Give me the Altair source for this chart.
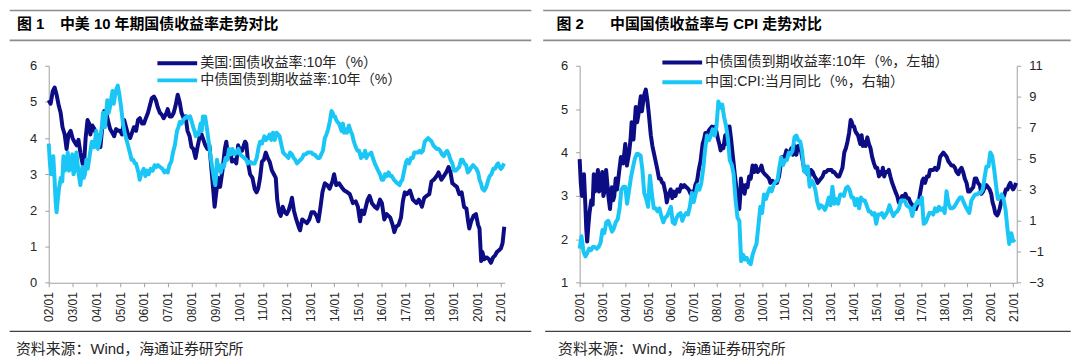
import altair as alt
import pandas as pd

# ---------------- data ----------------
us_t = [2002.00, 2002.08, 2002.17, 2002.25, 2002.33, 2002.42, 2002.50, 2002.58, 2002.67, 2002.75,
        2002.83, 2002.92, 2003.00, 2003.08, 2003.17, 2003.25, 2003.33, 2003.42, 2003.47, 2003.55,
        2003.63, 2003.70, 2003.75, 2003.83, 2003.92, 2004.00, 2004.08, 2004.17, 2004.25, 2004.33,
        2004.42, 2004.50, 2004.58, 2004.67, 2004.75, 2004.83, 2004.92, 2005.00, 2005.08, 2005.17,
        2005.25, 2005.33, 2005.42, 2005.50, 2005.58, 2005.67, 2005.75, 2005.83, 2005.92, 2006.00,
        2006.08, 2006.17, 2006.25, 2006.33, 2006.42, 2006.50, 2006.58, 2006.67, 2006.75, 2006.83,
        2006.92, 2007.00, 2007.08, 2007.17, 2007.25, 2007.33, 2007.42, 2007.50, 2007.58, 2007.67,
        2007.75, 2007.83, 2007.92, 2008.00, 2008.08, 2008.17, 2008.25, 2008.33, 2008.42, 2008.50,
        2008.58, 2008.67, 2008.75, 2008.83, 2008.92, 2008.97, 2009.04, 2009.12, 2009.20, 2009.30,
        2009.40, 2009.46, 2009.54, 2009.62, 2009.70, 2009.80, 2009.88, 2009.96, 2010.04, 2010.12,
        2010.25, 2010.30, 2010.38, 2010.46, 2010.56, 2010.65, 2010.73, 2010.80, 2010.88, 2010.96,
        2011.04, 2011.12, 2011.20, 2011.28, 2011.38, 2011.46, 2011.54, 2011.60, 2011.68, 2011.75,
        2011.83, 2011.92, 2012.00, 2012.08, 2012.17, 2012.22, 2012.30, 2012.40, 2012.50, 2012.56,
        2012.65, 2012.75, 2012.85, 2012.95, 2013.04, 2013.15, 2013.25, 2013.33, 2013.42, 2013.50,
        2013.60, 2013.70, 2013.80, 2013.92, 2013.99, 2014.08, 2014.20, 2014.30, 2014.42, 2014.55,
        2014.65, 2014.78, 2014.90, 2014.99, 2015.08, 2015.15, 2015.25, 2015.40, 2015.48, 2015.58,
        2015.70, 2015.80, 2015.92, 2016.00, 2016.10, 2016.20, 2016.35, 2016.45, 2016.52, 2016.60,
        2016.70, 2016.80, 2016.88, 2016.96, 2017.05, 2017.18, 2017.30, 2017.45, 2017.55, 2017.68,
        2017.78, 2017.88, 2017.99, 2018.08, 2018.18, 2018.30, 2018.38, 2018.50, 2018.60, 2018.70,
        2018.80, 2018.88, 2018.96, 2019.05, 2019.15, 2019.25, 2019.35, 2019.45, 2019.55, 2019.62,
        2019.67, 2019.75, 2019.85, 2019.95, 2020.04, 2020.10, 2020.17, 2020.22, 2020.30, 2020.40,
        2020.50, 2020.58, 2020.67, 2020.75, 2020.83, 2020.92, 2021.00, 2021.07, 2021.14]
us_v = [5.05, 4.95, 5.30, 5.40, 5.20, 4.90, 4.70, 4.30, 4.10, 3.70,
        4.10, 4.20, 4.00, 3.90, 3.80, 3.95, 3.60, 3.30, 3.15, 4.00,
        4.50, 4.40, 4.10, 4.35, 4.25, 4.10, 4.05, 3.75, 4.30, 4.75,
        4.70, 4.45, 4.25, 4.15, 4.05, 4.25, 4.20, 4.20, 4.10, 4.50,
        4.30, 4.10, 4.00, 4.15, 4.30, 4.20, 4.50, 4.55, 4.40, 4.40,
        4.55, 4.70, 4.90, 5.10, 5.15, 5.05, 4.85, 4.70, 4.65, 4.55,
        4.65, 4.80, 4.60, 4.60, 4.70, 4.90, 5.20, 5.00, 4.70, 4.55,
        4.60, 4.20, 4.05, 3.75, 3.70, 3.45, 3.75, 4.00, 4.10, 3.95,
        3.80, 3.70, 3.80, 3.20, 2.50, 2.10, 2.50, 2.90, 2.65, 3.10,
        3.70, 3.90, 3.50, 3.65, 3.35, 3.40, 3.30, 3.80, 3.65, 3.65,
        3.90, 3.85, 3.30, 3.00, 2.90, 2.60, 2.50, 2.60, 2.90, 3.35,
        3.40, 3.60, 3.45, 3.35, 3.10, 3.00, 2.90, 2.30, 1.95, 1.85,
        2.10, 1.95, 1.90, 2.00, 2.20, 2.35, 2.00, 1.75, 1.55, 1.45,
        1.75, 1.70, 1.65, 1.75, 1.95, 1.95, 1.85, 1.70, 2.10, 2.50,
        2.75, 2.70, 2.60, 2.80, 3.00, 2.70, 2.75, 2.65, 2.55, 2.50,
        2.45, 2.20, 2.25, 2.10, 1.70, 2.00, 1.90, 2.30, 2.40, 2.20,
        2.10, 2.05, 2.30, 2.20, 1.75, 1.90, 1.80, 1.60, 1.40, 1.55,
        1.60, 1.80, 2.25, 2.50, 2.45, 2.55, 2.30, 2.20, 2.30, 2.10,
        2.35, 2.40, 2.45, 2.80, 2.85, 2.95, 3.05, 2.85, 2.95, 3.05,
        3.20, 3.05, 2.75, 2.70, 2.65, 2.45, 2.50, 2.10, 2.05, 1.70,
        1.50, 1.70, 1.85, 1.90, 1.60, 1.50, 0.60, 0.85, 0.65, 0.70,
        0.65, 0.55, 0.70, 0.75, 0.85, 0.90, 0.95, 1.10, 1.55]

cn_t = [2002.00, 2002.05, 2002.10, 2002.19, 2002.25, 2002.29, 2002.33, 2002.38, 2002.43, 2002.51,
        2002.57, 2002.62, 2002.67, 2002.72, 2002.80, 2002.85, 2002.90, 2002.99, 2003.04, 2003.09,
        2003.16, 2003.21, 2003.26, 2003.33, 2003.41, 2003.47, 2003.52, 2003.58, 2003.64, 2003.74,
        2003.81, 2003.91, 2004.00, 2004.07, 2004.17, 2004.23, 2004.28, 2004.36, 2004.46, 2004.52,
        2004.57, 2004.63, 2004.68, 2004.73, 2004.78, 2004.84, 2004.90, 2004.97, 2005.04, 2005.12,
        2005.19, 2005.29, 2005.35, 2005.41, 2005.48, 2005.55, 2005.62, 2005.67, 2005.77, 2005.82,
        2005.88, 2005.99, 2006.06, 2006.13, 2006.20, 2006.28, 2006.37, 2006.45, 2006.52, 2006.59,
        2006.68, 2006.78, 2006.86, 2006.93, 2007.00, 2007.07, 2007.15, 2007.22, 2007.30, 2007.39,
        2007.45, 2007.51, 2007.58, 2007.65, 2007.72, 2007.80, 2007.87, 2007.94, 2008.01, 2008.07,
        2008.12, 2008.18, 2008.23, 2008.30, 2008.38, 2008.43, 2008.48, 2008.53, 2008.57, 2008.64,
        2008.69, 2008.74, 2008.80, 2008.88, 2008.94, 2009.00, 2009.04, 2009.07, 2009.12, 2009.17,
        2009.23, 2009.29, 2009.36, 2009.43, 2009.50, 2009.58, 2009.65, 2009.72, 2009.80, 2009.90,
        2009.97, 2010.04, 2010.12, 2010.22, 2010.30, 2010.36, 2010.45, 2010.55, 2010.65, 2010.74,
        2010.82, 2010.88, 2010.96, 2011.06, 2011.13, 2011.20, 2011.28, 2011.35, 2011.42, 2011.50,
        2011.57, 2011.64, 2011.70, 2011.78, 2011.85, 2011.92, 2012.00, 2012.07, 2012.14, 2012.22,
        2012.29, 2012.36, 2012.43, 2012.50, 2012.58, 2012.65, 2012.72, 2012.80, 2012.88, 2012.94,
        2013.04, 2013.10, 2013.16, 2013.23, 2013.30, 2013.38, 2013.45, 2013.52, 2013.60, 2013.67,
        2013.74, 2013.81, 2013.88, 2013.93, 2013.98, 2014.03, 2014.08, 2014.13, 2014.20, 2014.25,
        2014.30, 2014.36, 2014.41, 2014.46, 2014.53, 2014.61, 2014.68, 2014.75, 2014.82, 2014.90,
        2014.97, 2015.04, 2015.12, 2015.19, 2015.25, 2015.29, 2015.35, 2015.41, 2015.48, 2015.55,
        2015.62, 2015.70, 2015.77, 2015.84, 2015.92, 2015.99, 2016.06, 2016.13, 2016.20, 2016.28,
        2016.35, 2016.42, 2016.50, 2016.57, 2016.65, 2016.74, 2016.80, 2016.86, 2016.92, 2016.97,
        2017.02, 2017.07, 2017.14, 2017.22, 2017.30, 2017.36, 2017.43, 2017.51, 2017.58, 2017.65,
        2017.72, 2017.80, 2017.87, 2017.94, 2018.02, 2018.09, 2018.16, 2018.23, 2018.30, 2018.38,
        2018.45, 2018.52, 2018.60, 2018.67, 2018.74, 2018.81, 2018.88, 2018.96, 2019.03, 2019.10,
        2019.17, 2019.25, 2019.32, 2019.39, 2019.46, 2019.54, 2019.61, 2019.68, 2019.76, 2019.83,
        2019.90, 2019.97, 2020.04, 2020.10, 2020.16, 2020.22, 2020.30, 2020.35, 2020.41, 2020.47,
        2020.53, 2020.60, 2020.68, 2020.75, 2020.82, 2020.88, 2020.94, 2021.00, 2021.06, 2021.13]
cn_v = [3.85, 3.30, 3.00, 3.50, 2.80, 2.25, 1.95, 2.30, 2.60, 2.90,
        2.80, 3.50, 3.10, 3.15, 3.60, 3.10, 3.15, 3.55, 3.00, 3.10,
        3.60, 3.30, 3.00, 2.70, 3.20, 2.90, 3.00, 3.40, 3.15, 3.60,
        3.90, 3.75, 4.20, 3.70, 4.00, 4.30, 4.70, 4.30, 5.05, 4.70,
        4.85, 5.10, 5.30, 4.95, 5.15, 5.35, 5.45, 5.20, 4.85, 4.40,
        4.15, 3.90, 3.75, 3.60, 3.40, 3.40, 3.30, 3.30, 3.05, 2.85,
        3.00, 3.15, 2.95, 3.10, 3.00, 3.15, 3.10, 3.25, 3.20, 3.25,
        3.20, 3.15, 3.05, 3.10, 3.05, 3.25, 3.35, 3.60, 3.80, 4.20,
        4.30, 4.45, 4.40, 4.50, 4.55, 4.60, 4.55, 4.60, 4.45, 4.30,
        4.20, 4.05, 4.15, 4.10, 4.40, 4.20, 4.60, 4.45, 4.60, 4.30,
        4.05, 3.80, 3.50, 3.15, 2.90, 2.70, 3.00, 3.40, 3.10, 3.25,
        3.05, 3.25, 3.20, 3.45, 3.40, 3.70, 3.55, 3.70, 3.55, 3.60,
        3.70, 3.55, 3.50, 3.45, 3.40, 3.30, 3.35, 3.30, 3.30, 3.45,
        3.75, 3.90, 3.85, 4.05, 3.95, 4.00, 4.10, 3.95, 4.15, 3.95,
        4.15, 4.10, 4.05, 3.80, 3.60, 3.55, 3.50, 3.45, 3.60, 3.55,
        3.45, 3.40, 3.30, 3.35, 3.40, 3.45, 3.55, 3.55, 3.60, 3.60,
        3.60, 3.55, 3.55, 3.50, 3.45, 3.45, 3.55, 3.65, 4.00, 4.10,
        4.25, 4.45, 4.75, 4.70, 4.60, 4.60, 4.50, 4.45, 4.40, 4.30,
        4.20, 4.40, 4.15, 4.25, 4.15, 4.35, 4.20, 4.10, 3.90, 3.75,
        3.65, 3.65, 3.45, 3.55, 3.50, 3.65, 3.45, 3.55, 3.55, 3.60,
        3.45, 3.30, 3.20, 3.10, 3.00, 2.85, 2.85, 3.00, 2.95, 3.05,
        2.95, 2.95, 2.85, 2.80, 2.75, 2.70, 2.80, 2.85, 3.05, 3.20,
        3.35, 3.40, 3.30, 3.45, 3.45, 3.60, 3.60, 3.60, 3.65, 3.60,
        3.65, 3.90, 3.95, 4.00, 3.95, 3.90, 3.80, 3.75, 3.70, 3.70,
        3.65, 3.55, 3.50, 3.60, 3.65, 3.55, 3.40, 3.30, 3.10, 3.10,
        3.15, 3.20, 3.40, 3.40, 3.30, 3.25, 3.05, 3.10, 3.20, 3.25,
        3.20, 3.15, 3.05, 2.85, 2.75, 2.60, 2.55, 2.60, 2.70, 2.85,
        2.95, 3.00, 3.15, 3.15, 3.25, 3.30, 3.20, 3.15, 3.20, 3.30]

cpi_t = [2002.00, 2002.08, 2002.17, 2002.25, 2002.33, 2002.42, 2002.50, 2002.58, 2002.67, 2002.75,
         2002.83, 2002.92, 2003.00, 2003.08, 2003.17, 2003.25, 2003.33, 2003.42, 2003.50, 2003.58,
         2003.67, 2003.75, 2003.83, 2003.92, 2004.00, 2004.08, 2004.17, 2004.25, 2004.33, 2004.42,
         2004.50, 2004.58, 2004.67, 2004.75, 2004.83, 2004.92, 2005.00, 2005.08, 2005.17, 2005.25,
         2005.33, 2005.42, 2005.50, 2005.58, 2005.67, 2005.75, 2005.83, 2005.92, 2006.00, 2006.08,
         2006.17, 2006.25, 2006.33, 2006.42, 2006.50, 2006.58, 2006.67, 2006.75, 2006.83, 2006.92,
         2007.00, 2007.08, 2007.17, 2007.25, 2007.33, 2007.42, 2007.50, 2007.58, 2007.67, 2007.75,
         2007.83, 2007.92, 2008.00, 2008.08, 2008.17, 2008.25, 2008.33, 2008.42, 2008.50, 2008.58,
         2008.67, 2008.75, 2008.83, 2008.92, 2009.00, 2009.08, 2009.17, 2009.25, 2009.33, 2009.42,
         2009.50, 2009.58, 2009.67, 2009.75, 2009.83, 2009.92, 2010.00, 2010.08, 2010.17, 2010.25,
         2010.33, 2010.42, 2010.50, 2010.58, 2010.67, 2010.75, 2010.83, 2010.92, 2011.00, 2011.08,
         2011.17, 2011.25, 2011.33, 2011.42, 2011.50, 2011.58, 2011.67, 2011.75, 2011.83, 2011.92,
         2012.00, 2012.08, 2012.17, 2012.25, 2012.33, 2012.42, 2012.50, 2012.58, 2012.67, 2012.75,
         2012.83, 2012.92, 2013.00, 2013.08, 2013.17, 2013.25, 2013.33, 2013.42, 2013.50, 2013.58,
         2013.67, 2013.75, 2013.83, 2013.92, 2014.00, 2014.08, 2014.17, 2014.25, 2014.33, 2014.42,
         2014.50, 2014.58, 2014.67, 2014.75, 2014.83, 2014.92, 2015.00, 2015.08, 2015.17, 2015.25,
         2015.33, 2015.42, 2015.50, 2015.58, 2015.67, 2015.75, 2015.83, 2015.92, 2016.00, 2016.08,
         2016.17, 2016.25, 2016.33, 2016.42, 2016.50, 2016.58, 2016.67, 2016.75, 2016.83, 2016.92,
         2017.00, 2017.08, 2017.17, 2017.25, 2017.33, 2017.42, 2017.50, 2017.58, 2017.67, 2017.75,
         2017.83, 2017.92, 2018.00, 2018.08, 2018.17, 2018.25, 2018.33, 2018.42, 2018.50, 2018.58,
         2018.67, 2018.75, 2018.83, 2018.92, 2019.00, 2019.08, 2019.17, 2019.25, 2019.33, 2019.42,
         2019.50, 2019.58, 2019.67, 2019.75, 2019.83, 2019.92, 2020.00, 2020.08, 2020.17, 2020.25,
         2020.33, 2020.42, 2020.50, 2020.58, 2020.67, 2020.75, 2020.83, 2020.92, 2021.00, 2021.08]
cpi_v = [-0.8, 0.0, -1.0, -1.3, -1.1, -0.8, -0.9, -0.7, -0.7, -0.8,
         -0.7, -0.4, 0.4, 0.2, 0.9, 1.0, 0.7, 0.3, 0.5, 0.9,
         1.1, 1.8, 3.0, 3.2, 3.2, 2.1, 3.0, 3.8, 4.4, 5.0,
         5.3, 5.3, 5.2, 4.3, 2.8, 2.4, 1.9, 3.9, 2.7, 1.8,
         1.8, 1.6, 1.8, 1.3, 0.9, 1.2, 1.3, 1.6, 1.9, 0.9,
         0.8, 1.2, 1.4, 1.5, 1.0, 1.3, 1.5, 1.4, 1.9, 2.8,
         2.2, 2.7, 3.3, 3.0, 3.4, 4.4, 5.6, 6.5, 6.2, 6.5,
         6.9, 6.5, 7.1, 8.7, 8.3, 8.5, 7.7, 7.1, 6.3, 4.9,
         4.6, 4.0, 2.4, 1.2, 1.0, -1.6, -1.2, -1.5, -1.4, -1.7,
         -1.8, -1.2, -0.8, -0.5, 0.6, 1.9, 1.5, 2.7, 2.4, 2.8,
         3.1, 2.9, 3.3, 3.5, 3.6, 4.4, 5.1, 4.6, 4.9, 4.9,
         5.4, 5.3, 5.5, 6.4, 6.5, 6.2, 6.1, 5.5, 4.2, 4.1,
         4.5, 3.2, 3.6, 3.4, 3.0, 2.2, 1.8, 2.0, 1.9, 1.7,
         2.0, 2.5, 2.0, 3.2, 2.1, 2.4, 2.1, 2.7, 2.7, 2.6,
         3.1, 3.2, 3.0, 2.5, 2.5, 2.0, 2.4, 1.8, 2.5, 2.3,
         2.3, 2.0, 1.6, 1.6, 1.4, 1.5, 0.8, 1.4, 1.4, 1.5,
         1.2, 1.4, 1.6, 2.0, 1.6, 1.3, 1.5, 1.6, 1.8, 2.3,
         2.3, 2.3, 2.0, 1.9, 1.8, 1.3, 1.9, 2.1, 2.3, 2.1,
         2.5, 0.8, 0.9, 1.2, 1.5, 1.5, 1.4, 1.8, 1.6, 1.9,
         1.7, 1.8, 1.5, 2.9, 2.1, 1.8, 1.8, 1.9, 2.1, 2.3,
         2.5, 2.5, 2.2, 1.9, 1.7, 1.5, 2.3, 2.5, 2.7, 2.7,
         2.8, 2.8, 3.0, 3.8, 4.5, 4.5, 5.4, 5.2, 4.3, 3.3,
         2.4, 2.5, 2.7, 2.4, 1.7, 0.5, -0.5, 0.2, -0.3, -0.2]

year_ticks = list(range(2002, 2022))
x_domain = [2002, 2021.16]
y1_ticks = [0, 1, 2, 3, 4, 5, 6]
y2l_ticks = [1, 2, 3, 4, 5, 6]
y2r_ticks = [-3, -1, 1, 3, 5, 7, 9, 11]

title1_a, title1_b = "图 1", "中美 10 年期国债收益率走势对比"
title2_a, title2_b = "图 2", "中国国债收益率与 CPI 走势对比"
leg1 = ["美国:国债收益率:10年（%）", "中债国债到期收益率:10年（%）"]
leg2 = ["中债国债到期收益率:10年（%，左轴）", "中国:CPI:当月同比（%，右轴）"]
source = "资料来源：Wind，海通证券研究所"

# ---------------- styling ----------------
DARK = "#0c0c84"
CYAN = "#19c6f5"
AXIS = "#a0a0a0"
TXT = "#262626"
FONT = "Liberation Sans, Noto Sans CJK SC"
LW = 4
W1, W2, H = 459, 440, 218.4

us = pd.DataFrame({"t": us_t, "v": us_v})
cn = pd.DataFrame({"t": cn_t, "v": cn_v})
cpi = pd.DataFrame({"t": cpi_t, "v": cpi_v})
one = pd.DataFrame({"k": [0]})

xlab = "(datum.value < 2010 ? '0' : '') + (datum.value - 2000) + '/01'"


def x_enc():
    return alt.X(
        "t:Q",
        scale=alt.Scale(domain=x_domain, nice=False, zero=False),
        axis=alt.Axis(values=year_ticks, labelExpr=xlab, labelAngle=270, title=None,
                      grid=False, tickSize=4, labelPadding=5, labelFontSize=12,
                      labelFont=FONT, labelColor=TXT, labelFlush=False, labelOverlap=False,
                      domainColor=AXIS, tickColor=AXIS),
    )


def y_enc(domain, ticks, orient="left"):
    return alt.Y(
        "v:Q",
        scale=alt.Scale(domain=domain, nice=False, zero=False),
        axis=alt.Axis(values=ticks, orient=orient, title=None, grid=False, tickSize=4,
                      labelPadding=8, labelFontSize=13, labelFont=FONT, labelColor=TXT,
                      labelFlush=False, domainColor=AXIS, tickColor=AXIS),
    )


def rule(x1, x2, y, color, width):
    return alt.Chart(one).mark_rule(color=color, strokeWidth=width).encode(
        x=alt.value(x1), x2=alt.value(x2), y=alt.value(y))


def text(s, x, y, size, weight="normal", color=TXT):
    return alt.Chart(one).mark_text(text=s, align="left", baseline="middle", font=FONT,
                                    fontSize=size, fontWeight=weight, color=color).encode(
        x=alt.value(x), y=alt.value(y))


def legend_row(x, y, color, label):
    return [alt.Chart(one).mark_rule(color=color, strokeWidth=4).encode(
                x=alt.value(x), x2=alt.value(x + 40), y=alt.value(y)),
            text(label, x + 43, y, 14.2)]


# ---------------- panel 1 ----------------
p1_lines = alt.layer(
    alt.Chart(us).mark_line(color=DARK, strokeWidth=LW, strokeJoin="round").encode(
        x=x_enc(), y=y_enc([0, 6], y1_ticks)),
    alt.Chart(cn).mark_line(color=CYAN, strokeWidth=LW, strokeJoin="round").encode(
        x=x_enc(), y=y_enc([0, 6], y1_ticks)),
)
p1 = alt.layer(
    p1_lines,
    rule(-39.3, 485.7, -55.6, "#8c8c8c", 1.6),
    rule(-39.3, 485.7, -25.6, "#8c8c8c", 1.6),
    text(title1_a, -32, -41.8, 15, "bold", "#000000"),
    text(title1_b, 11.3, -41.8, 15, "bold", "#000000"),
    *legend_row(109.4, -2.6, DARK, leg1[0]),
    *legend_row(109.4, 14.7, CYAN, leg1[1]),
    rule(-39.3, 485.7, 267.4, "#404040", 1.3),
    text(source, -33, 285, 15),
).properties(width=W1, height=H)

# ---------------- panel 2 ----------------
p2_left = alt.Chart(cn).mark_line(color=DARK, strokeWidth=LW, strokeJoin="round").encode(
    x=x_enc(), y=y_enc([1, 6], y2l_ticks))
p2_right = alt.Chart(cpi).mark_line(color=CYAN, strokeWidth=LW, strokeJoin="round").encode(
    x=x_enc(), y=y_enc([-3, 11], y2r_ticks, "right"))
p2_lines = alt.layer(p2_left, p2_right).resolve_scale(y="independent")

p2 = alt.layer(
    p2_lines,
    rule(-36.7, 494.3, -55.6, "#8c8c8c", 1.6),
    rule(-36.7, 494.3, -25.6, "#8c8c8c", 1.6),
    text(title2_a, -23.4, -41.8, 15, "bold", "#000000"),
    text(title2_b, 30.6, -41.8, 15, "bold", "#000000"),
    *legend_row(83.3, -3.3, DARK, leg2[0]),
    *legend_row(83.3, 16.7, CYAN, leg2[1]),
    rule(-34.7, 494.3, 267.4, "#404040", 1.3),
    text(source, -21.7, 285, 15),
).properties(width=W2, height=H)

chart = alt.hconcat(p1, p2, spacing=75.4, bounds="flush").properties(
    padding=0
).configure_view(strokeWidth=0)

chart.save("out.html", embed_options={"renderer": "svg", "actions": False})
